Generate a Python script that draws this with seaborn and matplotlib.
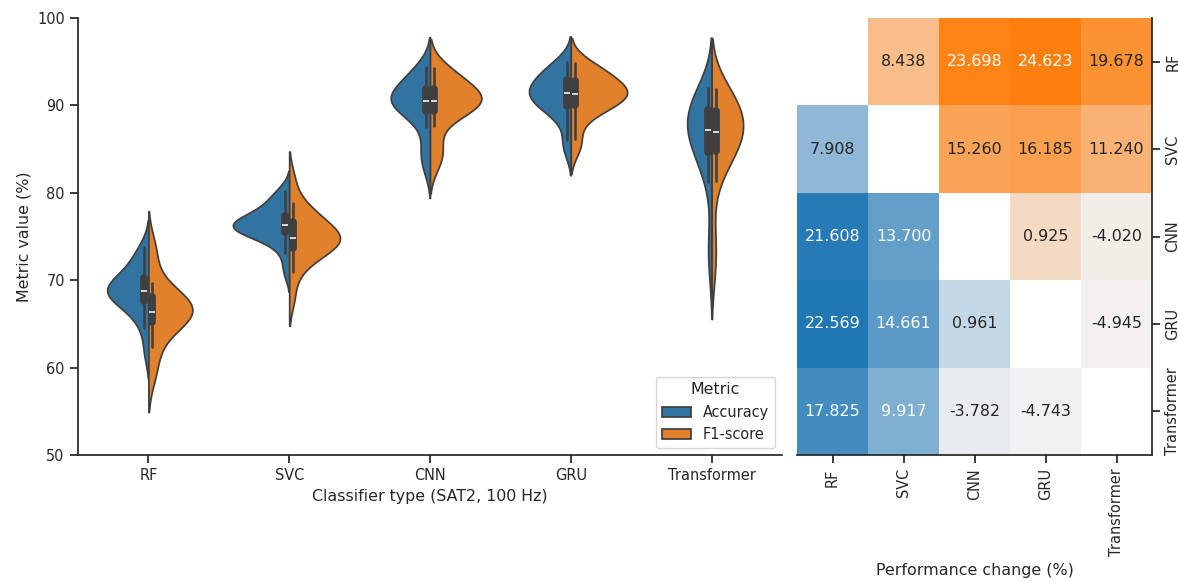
import numpy as np
import pandas as pd
import matplotlib
matplotlib.use("Agg")
import matplotlib.pyplot as plt
import seaborn as sns

# ---- data -----------------------------------------------------------------
classifiers = ["RF", "SVC", "CNN", "GRU", "Transformer"]
metrics = ["Accuracy", "F1-score"]

# per-run scores (%) for each classifier
rf_accuracy = [61.8, 64.5, 65.8, 66.7, 67.3, 67.7, 68.1, 68.4, 68.6, 68.7,
               68.9, 69.1, 69.3, 69.7, 70.2, 70.6, 71.2, 72.0, 72.9, 73.8]
rf_f1 = [58.8, 60.7, 62.4, 63.8, 64.8, 65.3, 65.7, 66.0, 66.2, 66.3,
         66.5, 66.8, 67.1, 67.5, 67.9, 68.4, 69.0, 69.7, 72.5, 74.0]
svc_accuracy = [71.0, 73.1, 74.4, 75.0, 75.3, 75.6, 75.8, 76.0, 76.1, 76.2,
                76.4, 76.5, 76.7, 76.9, 77.3, 77.7, 78.2, 78.9, 79.5, 80.2]
svc_f1 = [68.0, 70.9, 72.0, 72.9, 73.4, 73.8, 74.1, 74.4, 74.6, 74.7,
          74.9, 75.1, 75.4, 75.8, 76.5, 77.0, 77.5, 78.0, 78.8, 81.5]
cnn_accuracy = [82.8, 84.2, 85.2, 87.5, 88.9, 89.5, 89.8, 90.1, 90.3, 90.4,
                90.5, 90.7, 91.0, 91.4, 91.8, 92.2, 92.7, 93.3, 93.9, 94.4]
cnn_f1 = [83.2, 84.5, 85.3, 87.6, 88.9, 89.5, 89.8, 90.1, 90.3, 90.4,
          90.5, 90.7, 91.0, 91.4, 91.8, 92.2, 92.7, 93.3, 93.8, 94.3]
gru_accuracy = [84.9, 86.0, 88.3, 89.2, 89.6, 90.0, 90.4, 90.8, 91.1, 91.3,
                91.5, 91.7, 92.0, 92.3, 92.8, 93.2, 93.6, 94.0, 94.5, 95.0]
gru_f1 = [85.0, 86.2, 88.4, 89.3, 89.7, 90.1, 90.5, 90.9, 91.1, 91.3,
          91.4, 91.6, 91.9, 92.2, 92.7, 93.1, 93.5, 93.9, 94.4, 94.9]
transformer_accuracy = [71.8, 74.8, 81.2, 83.0, 84.2, 84.8, 85.5, 86.2, 86.8, 87.1,
                        87.3, 87.8, 88.3, 88.8, 89.3, 89.8, 90.4, 91.0, 91.5, 92.0]
transformer_f1 = [71.3, 75.0, 81.3, 83.1, 84.3, 84.9, 85.4, 86.0, 86.6, 86.9,
                  87.1, 87.6, 88.1, 88.7, 89.2, 89.7, 90.3, 90.9, 91.4, 91.9]

accuracy_runs = [rf_accuracy, svc_accuracy, cnn_accuracy, gru_accuracy, transformer_accuracy]
f1_runs = [rf_f1, svc_f1, cnn_f1, gru_f1, transformer_f1]

# pairwise performance change (%): lower triangle = accuracy, upper = F1-score
change_matrix = [
    [np.nan, 8.438, 23.698, 24.623, 19.678],
    [7.908, np.nan, 15.260, 16.185, 11.240],
    [21.608, 13.700, np.nan, 0.925, -4.020],
    [22.569, 14.661, 0.961, np.nan, -4.945],
    [17.825, 9.917, -3.782, -4.743, np.nan],
]

# ---- long-form table for the violins -------------------------------------
records = []
for clf, acc, f1 in zip(classifiers, accuracy_runs, f1_runs):
    for v in acc:
        records.append({"Classifier": clf, "Metric": metrics[0], "Value": v})
    for v in f1:
        records.append({"Classifier": clf, "Metric": metrics[1], "Value": v})
df = pd.DataFrame(records)

sns.set_theme(style="ticks", palette="tab10", font_scale=0.95)

W, H = 1178, 581
fig = plt.figure(figsize=(W / 100, H / 100), dpi=100)
ax_v = fig.add_axes([78 / W, 126 / H, 704 / W, 437 / H])
ax_h = fig.add_axes([797 / W, 126 / H, 355 / W, 437 / H])

# ---- split violins ---------------------------------------------------------
sns.violinplot(data=df, x="Classifier", y="Value", hue="Metric",
               order=classifiers, hue_order=metrics,
               split=True, inner="box", ax=ax_v)
ax_v.set_ylim(50, 100)
ax_v.set_yticks([50, 60, 70, 80, 90, 100])
ax_v.set_xlabel("Classifier type (SAT2, 100 Hz)")
ax_v.set_ylabel("Metric value (%)")
sns.despine(ax=ax_v)
sns.move_legend(ax_v, "lower right", title="Metric")

# ---- change matrix heatmap -------------------------------------------------
mat = np.array(change_matrix, dtype=float)
n = len(classifiers)
lower_mask = ~np.tril(np.ones((n, n), dtype=bool), k=-1)
upper_mask = ~np.triu(np.ones((n, n), dtype=bool), k=1)
lower_vals = mat[np.tril_indices(n, -1)]
upper_vals = mat[np.triu_indices(n, 1)]

sns.heatmap(mat, mask=lower_mask, cmap=sns.light_palette("#1f77b4", as_cmap=True),
            vmin=lower_vals.min(), vmax=lower_vals.max(), annot=True, fmt=".3f",
            cbar=False, xticklabels=classifiers, yticklabels=classifiers, ax=ax_h)
sns.heatmap(mat, mask=upper_mask, cmap=sns.light_palette("#ff7f0e", as_cmap=True),
            vmin=upper_vals.min(), vmax=upper_vals.max(), annot=True, fmt=".3f",
            cbar=False, xticklabels=classifiers, yticklabels=classifiers, ax=ax_h)

ax_h.yaxis.tick_right()
ax_h.yaxis.set_label_position("right")
for side in ["left", "top"]:
    ax_h.spines[side].set_visible(False)
for side in ["right", "bottom"]:
    ax_h.spines[side].set_visible(True)
    ax_h.spines[side].set_color("#262626")
    ax_h.spines[side].set_linewidth(1.25)
ax_h.tick_params(axis="both", length=6, width=1.25, left=False, right=True, bottom=True)
plt.setp(ax_h.get_xticklabels(), rotation=90)
plt.setp(ax_h.get_yticklabels(), rotation=90, va="center")
ax_h.set_xlabel("Performance change (%)", labelpad=5)
ax_h.set_ylabel("")

fig.savefig("out.png", dpi=100)
